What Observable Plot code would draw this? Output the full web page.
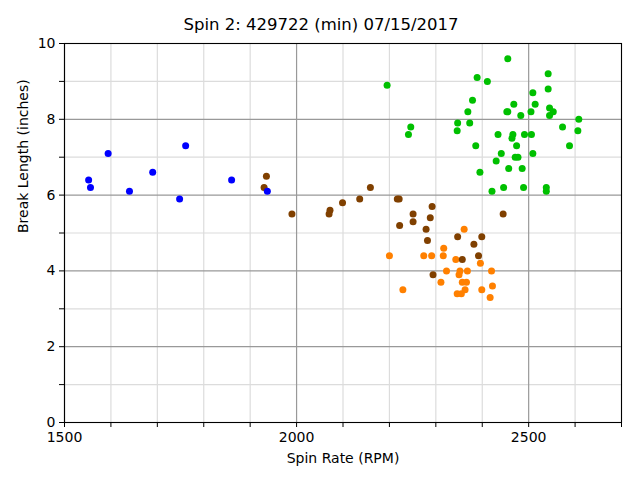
<!DOCTYPE html>
<html>
<head>
<meta charset="utf-8">
<script src="https://cdn.jsdelivr.net/npm/d3@7"></script>
<script src="https://cdn.jsdelivr.net/npm/@observablehq/plot@0.6"></script>
<style>
  html, body { margin: 0; padding: 0; background: white; }
  svg { font-family: "DejaVu Sans", sans-serif; }
</style>
</head>
<body>
<div id="chart"></div>
<script>
const title = "Spin 2: 429722 (min) 07/15/2017";
const xLabel = "Spin Rate (RPM)";
const yLabel = "Break Length (inches)";

const xMajorTicks = [1500, 2000, 2500];
const xMinorTicks = [1500, 1600, 1700, 1800, 1900, 2000, 2100, 2200, 2300, 2400, 2500, 2600, 2700];
const yMajorTicks = [0, 2, 4, 6, 8, 10];
const yMinorTicks = [0, 1, 2, 3, 4, 5, 6, 7, 8, 9, 10];

const blueSpin  = [1552, 1556, 1594, 1640, 1690, 1748, 1761, 1860, 1937];
const blueBreak = [6.4, 6.2, 7.1, 6.1, 6.6, 5.9, 7.3, 6.4, 6.1];

const brownSpin  = [1935, 1930, 1990, 2072, 2070, 2099, 2136, 2159, 2217, 2221, 2251, 2251, 2222, 2292, 2288, 2445, 2279, 2282, 2347, 2399, 2382, 2392, 2357, 2294];
const brownBreak = [6.5, 6.2, 5.5, 5.6, 5.5, 5.8, 5.9, 6.2, 5.9, 5.9, 5.5, 5.3, 5.2, 5.7, 5.4, 5.5, 5.1, 4.8, 4.9, 4.9, 4.7, 4.4, 4.3, 3.9];

const orangeSpin  = [2200, 2229, 2361, 2317, 2274, 2291, 2316, 2343, 2396, 2323, 2352, 2368, 2420, 2350, 2311, 2357, 2366, 2422, 2363, 2399, 2346, 2355, 2417];
const orangeBreak = [4.4, 3.5, 5.1, 4.6, 4.4, 4.4, 4.4, 4.3, 4.2, 4.0, 4.0, 4.0, 4.0, 3.9, 3.7, 3.7, 3.7, 3.6, 3.5, 3.5, 3.4, 3.4, 3.3];

const greenSpin  = [2455, 2195, 2389, 2411, 2542, 2509, 2542, 2379, 2468, 2514, 2369, 2453, 2455, 2505, 2545, 2553, 2545, 2483, 2608, 2347, 2373, 2346, 2246, 2241, 2573, 2606, 2434, 2466, 2464, 2491, 2506, 2386, 2474, 2588, 2441, 2509, 2471, 2477, 2430, 2457, 2486, 2395, 2446, 2489, 2538, 2538, 2421];
const greenBreak = [9.6, 8.9, 9.1, 9.0, 9.2, 8.7, 8.8, 8.5, 8.4, 8.4, 8.2, 8.2, 8.2, 8.2, 8.3, 8.2, 8.1, 8.1, 8.0, 7.9, 7.9, 7.7, 7.8, 7.6, 7.8, 7.7, 7.6, 7.6, 7.5, 7.6, 7.6, 7.3, 7.3, 7.3, 7.1, 7.1, 7.0, 7.0, 6.9, 6.7, 6.7, 6.6, 6.2, 6.2, 6.2, 6.1, 6.1];

const series = [
  {spin: greenSpin, brk: greenBreak, color: "#00c000"},
  {spin: orangeSpin, brk: orangeBreak, color: "#ff8000"},
  {spin: brownSpin, brk: brownBreak, color: "#804000"},
  {spin: blueSpin, brk: blueBreak, color: "#0000ff"}
];

const dotMarks = series.map(s =>
  Plot.dot(s.spin.map((v, i) => ({x: v, y: s.brk[i]})), {
    x: "x", y: "y", r: 3.5, fill: s.color, stroke: "none"
  })
);

const chart = Plot.plot({
  width: 640,
  height: 480,
  marginLeft: 64,
  marginRight: 19,
  marginTop: 43,
  marginBottom: 58,
  style: {fontFamily: "DejaVu Sans, sans-serif", fontSize: "14px", background: "white"},
  x: {domain: [1500, 2700]},
  y: {domain: [0, 10]},
  marks: [
    Plot.gridX(xMinorTicks.filter(d => !xMajorTicks.includes(d)), {stroke: "#dcdcdc", strokeOpacity: 1, strokeWidth: 1.2}),
    Plot.gridY(yMinorTicks.filter(d => !yMajorTicks.includes(d)), {stroke: "#dcdcdc", strokeOpacity: 1, strokeWidth: 1.2}),
    Plot.gridX(xMajorTicks, {stroke: "#999999", strokeOpacity: 1, strokeWidth: 1.2}),
    Plot.gridY(yMajorTicks, {stroke: "#999999", strokeOpacity: 1, strokeWidth: 1.2}),
    ...dotMarks,
    Plot.frame({stroke: "black", strokeWidth: 1.1}),
    Plot.axisX(xMinorTicks, {tickSize: 5, tickPadding: 5, fontSize: 14, label: null,
      tickFormat: d => xMajorTicks.includes(d) ? String(d) : ""}),
    Plot.axisY(yMinorTicks, {tickSize: 5, tickPadding: 4, fontSize: 14, label: null,
      tickFormat: d => yMajorTicks.includes(d) ? String(d) : ""}),
    Plot.text([xLabel], {text: d => d, frameAnchor: "bottom", dy: 40, fontSize: 14}),
    Plot.text([yLabel], {text: d => d, frameAnchor: "left", dx: -41, rotate: -90, fontSize: 14}),
    Plot.text([title], {text: d => d, frameAnchor: "top", dx: -22, dy: -25, fontSize: 16.5})
  ]
});
document.getElementById("chart").appendChild(chart);
</script>
</body>
</html>
